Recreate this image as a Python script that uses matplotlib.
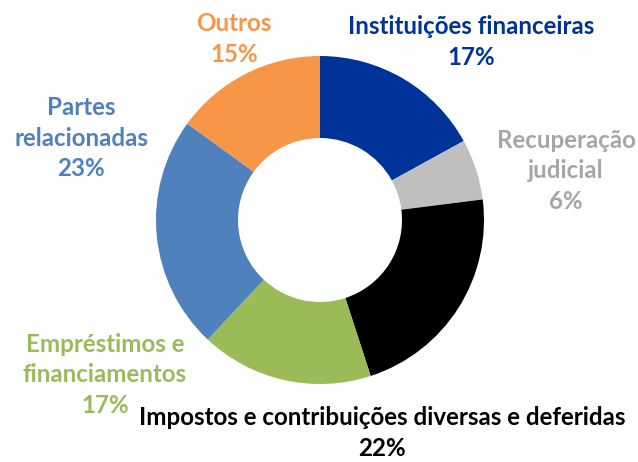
import matplotlib.pyplot as plt

labels = ['Instituições financeiras', 'Recuperação\njudicial',
          'Impostos e contribuições diversas e deferidas',
          'Empréstimos e\nfinanciamentos', 'Partes\nrelacionadas', 'Outros']
shares = [17, 6, 22, 17, 23, 15]
colors = ['#003399', '#BFBFBF', '#000000', '#9BBB59', '#4F81BD', '#F79646']
text_colors = ['#003399', '#A6A6A6', '#000000', '#9BBB59', '#4F81BD', '#F79646']

W, H = 638, 462
fig = plt.figure(figsize=(W / 100, H / 100), dpi=100)
ax = fig.add_axes([0, 0, 1, 1])

# donut, centre and radius in pixel units
ax.pie(shares, colors=colors, startangle=90, counterclock=False,
       center=(320, H - 220), radius=164,
       wedgeprops=dict(width=82, linewidth=0))

# label anchor points (pixel coords, top-left origin)
label_pos = [(471, 42), (566, 171), (382, 433), (105, 375), (81, 138), (234, 39)]
for lab, pct, c, (x, y) in zip(labels, shares, text_colors, label_pos):
    ax.text(x, H - y, f'{lab}\n{pct}%', ha='center', va='center',
            color=c, fontsize=17.4, fontweight='bold', family='Lato',
            linespacing=1.42)

ax.set_xlim(0, W)
ax.set_ylim(0, H)
ax.set_aspect('equal')
ax.axis('off')
fig.savefig('out.png', dpi=100)
